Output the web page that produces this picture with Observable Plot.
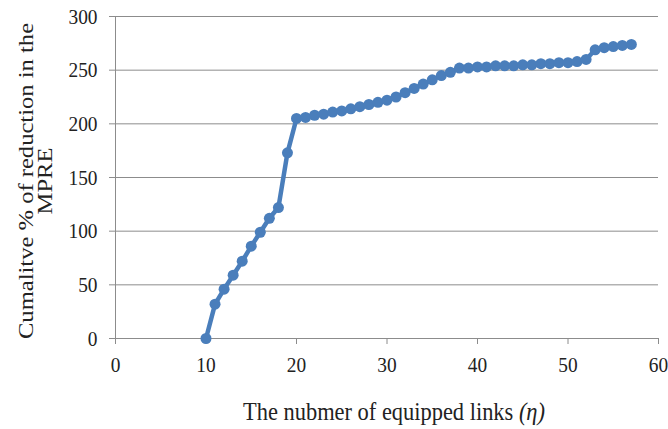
<!DOCTYPE html>
<html><head><meta charset="utf-8">
<script src="https://cdn.jsdelivr.net/npm/d3@7"></script>
<script src="https://cdn.jsdelivr.net/npm/@observablehq/plot@0.6"></script>
<style>
html,body{margin:0;padding:0;background:#fff;}
#chart{width:668px;height:429px;}
</style>
</head><body><div id="chart"></div>
<script>
const links = [10,11,12,13,14,15,16,17,18,19,20,21,22,23,24,25,26,27,28,29,30,31,32,33,34,35,36,37,38,39,40,41,42,43,44,45,46,47,48,49,50,51,52,53,54,55,56,57];
const reduction = [0,32,46,59,72,86,99,112,122,173,205,206,208,209,211,212,214,216,218,220,222,225,229,233,237,241,245,248,252,252,253,253,254,254,254,255,255,256,256,257,257,258,260,269,271,272,273,274];
const xTicks = [0,10,20,30,40,50,60];
const yTicks = [0,50,100,150,200,250,300];
const xTitle = "The nubmer of equipped links ";
const xTitleSym = "(η)";
const yTitleLines = ["Cumalitve % of reduction in the", "MPRE"];

const data = links.map((x,i)=>({x, y: reduction[i]}));
const blue = "#4a7ebb";
const grid = "#8c8c8c";
const font = "Liberation Serif";
const squeeze = 0.88;

const plot = Plot.plot({
  width: 668, height: 429,
  marginLeft: 115, marginRight: 10, marginTop: 16, marginBottom: 91,
  style: {fontFamily: font, background: "#fff"},
  x: {domain: [0,60], ticks: xTicks, label: null},
  y: {domain: [0,300], ticks: yTicks, label: null},
  marks: [
    Plot.gridY(yTicks.filter(d=>d>0), {stroke: grid, strokeOpacity: 1, strokeWidth: 1}),
    Plot.ruleX([0], {stroke: grid, strokeWidth: 1}),
    Plot.ruleY([0], {stroke: grid, strokeWidth: 1}),
    Plot.axisY({ticks: yTicks, tickSize: 6, stroke: grid, tickFormat: () => "", label: null}),
    Plot.axisX({ticks: xTicks, tickSize: 6, stroke: grid, tickFormat: () => "", label: null}),
    Plot.text(yTicks, {x: 0, y: d => d, text: d => String(d), textAnchor: "end", dx: -18, fontFamily: font, fontSize: 22, fill: "#222", className: "sq"}),
    Plot.text(xTicks, {x: d => d, y: 0, text: d => String(d), lineAnchor: "top", dy: 18, fontFamily: font, fontSize: 22, fill: "#222", className: "sq"}),
    Plot.line(data, {x: "x", y: "y", stroke: blue, strokeWidth: 4.5}),
    Plot.dot(data, {x: "x", y: "y", r: 5.5, fill: blue, stroke: "none"})
  ]
});
document.getElementById("chart").appendChild(plot);

const svg = d3.select(plot);
// horizontally condensed lettering, as in the reference
svg.selectAll("g.sq text").each(function() {
  const el = d3.select(this);
  const t = el.attr("transform");
  if (t) el.attr("transform", t + ` scale(${squeeze},1)`);
  else {
    const x = +el.attr("x") || 0, y = +el.attr("y") || 0;
    el.attr("x", null).attr("y", null).attr("transform", `translate(${x},${y}) scale(${squeeze},1)`);
  }
});

const xt = svg.append("text")
  .attr("transform", `translate(394,420) scale(${squeeze},1)`)
  .attr("text-anchor", "middle")
  .attr("font-family", font).attr("font-size", 25.5).attr("fill", "#222");
xt.append("tspan").text(xTitle);
xt.append("tspan").attr("font-style", "italic").text(xTitleSym);

const yt = svg.append("text")
  .attr("transform", `translate(0,181) rotate(-90) scale(1,${squeeze})`)
  .attr("text-anchor", "middle")
  .attr("font-family", font).attr("font-size", 24.6).attr("fill", "#222");
yt.append("tspan").attr("x", 0).attr("y", 33 / squeeze).text(yTitleLines[0]);
yt.append("tspan").attr("x", 0).attr("y", 52 / squeeze).text(yTitleLines[1]);
</script>
</body></html>
